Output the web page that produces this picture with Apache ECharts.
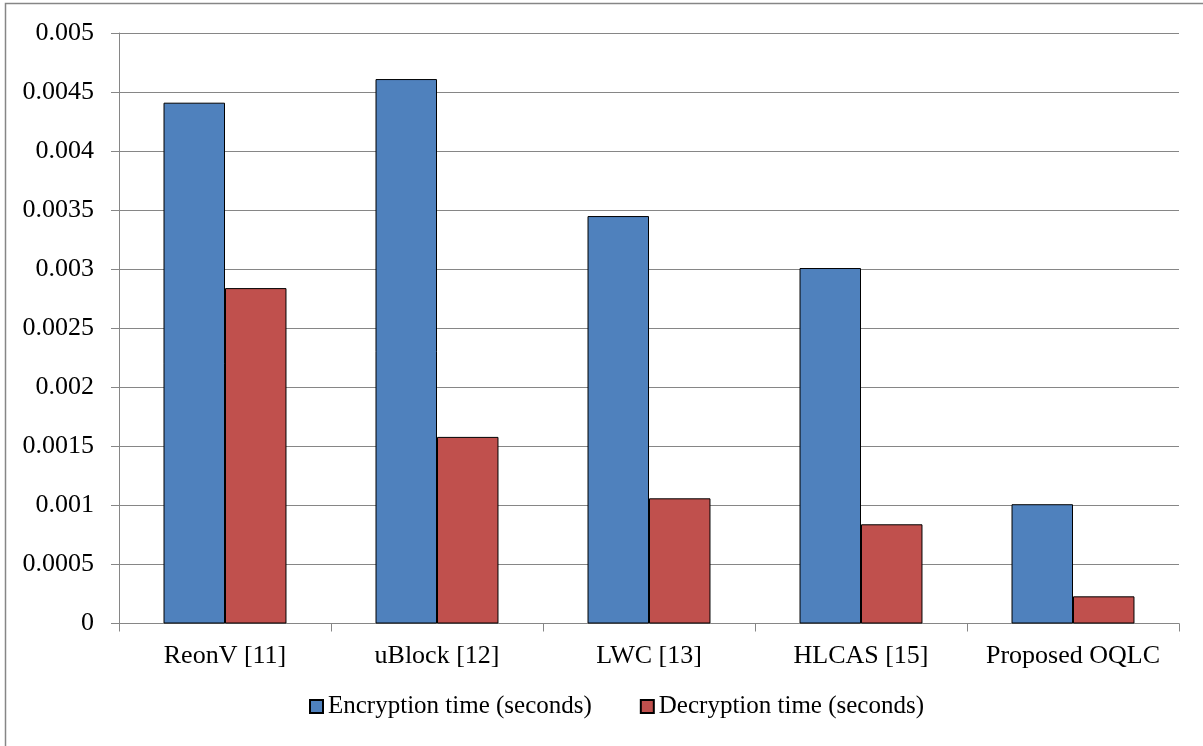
<!DOCTYPE html>
<html>
<head>
<meta charset="utf-8">
<script src="https://cdn.jsdelivr.net/npm/echarts@6/dist/echarts.min.js"></script>
<style>
html,body{margin:0;padding:0;background:#fff;}
#chart{width:1203px;height:746px;}
</style>
</head>
<body>
<div id="chart"></div>
<script>
var categories = ['ReonV [11]', 'uBlock [12]', 'LWC [13]', 'HLCAS [15]', 'Proposed OQLC'];
var encryption = [0.00441, 0.00461, 0.00345, 0.00301, 0.00101];
var decryption = [0.00284, 0.00158, 0.00106, 0.00084, 0.00023];
var yTickLabels = ['0', '0.0005', '0.001', '0.0015', '0.002', '0.0025', '0.003', '0.0035', '0.004', '0.0045', '0.005'];
var seriesNames = ['Encryption time (seconds)', 'Decryption time (seconds)'];

var FONT = '"Liberation Serif", "Times New Roman", serif';
var chart = echarts.init(document.getElementById('chart'), null, {renderer: 'canvas'});
chart.setOption({
  backgroundColor: '#fff',
  animation: false,
  graphic: [{
    type: 'rect',
    shape: {x: 5.5, y: 3.5, width: 1220, height: 760},
    style: {fill: 'none', stroke: '#868686', lineWidth: 1.5},
    silent: true
  }],
  grid: {left: 119, right: 24, top: 33, bottom: 122.5, containLabel: false},
  legend: {
    data: seriesNames,
    left: 304,
    top: 689,
    itemWidth: 13,
    itemHeight: 13,
    itemGap: 48,
    icon: 'rect',
    textStyle: {fontFamily: FONT, fontSize: 25, color: '#000'}
  },
  xAxis: {
    type: 'category',
    data: categories,
    axisLine: {lineStyle: {color: '#868686', width: 1}},
    axisTick: {show: true, length: 8, lineStyle: {color: '#868686'}},
    axisLabel: {fontFamily: FONT, fontSize: 26, color: '#000', margin: 20, interval: 0}
  },
  yAxis: {
    type: 'value',
    min: 0,
    max: 0.005,
    interval: 0.0005,
    axisLine: {show: true, lineStyle: {color: '#868686', width: 1}},
    axisTick: {show: true, length: 8, lineStyle: {color: '#868686'}},
    splitLine: {lineStyle: {color: '#868686', width: 1}},
    axisLabel: {
      fontFamily: FONT, fontSize: 26, color: '#000', margin: 25,
      formatter: function (v) { return yTickLabels[Math.round(v / 0.0005)]; }
    }
  },
  series: [{
    name: seriesNames[0],
    type: 'bar',
    data: encryption,
    barGap: '0%',
    barCategoryGap: '42%',
    itemStyle: {color: '#4f81bd', borderColor: '#000', borderWidth: 1}
  }, {
    name: seriesNames[1],
    type: 'bar',
    data: decryption,
    barGap: '0%',
    barCategoryGap: '42%',
    itemStyle: {color: '#c0504d', borderColor: '#000', borderWidth: 1}
  }]
});
</script>
</body>
</html>
